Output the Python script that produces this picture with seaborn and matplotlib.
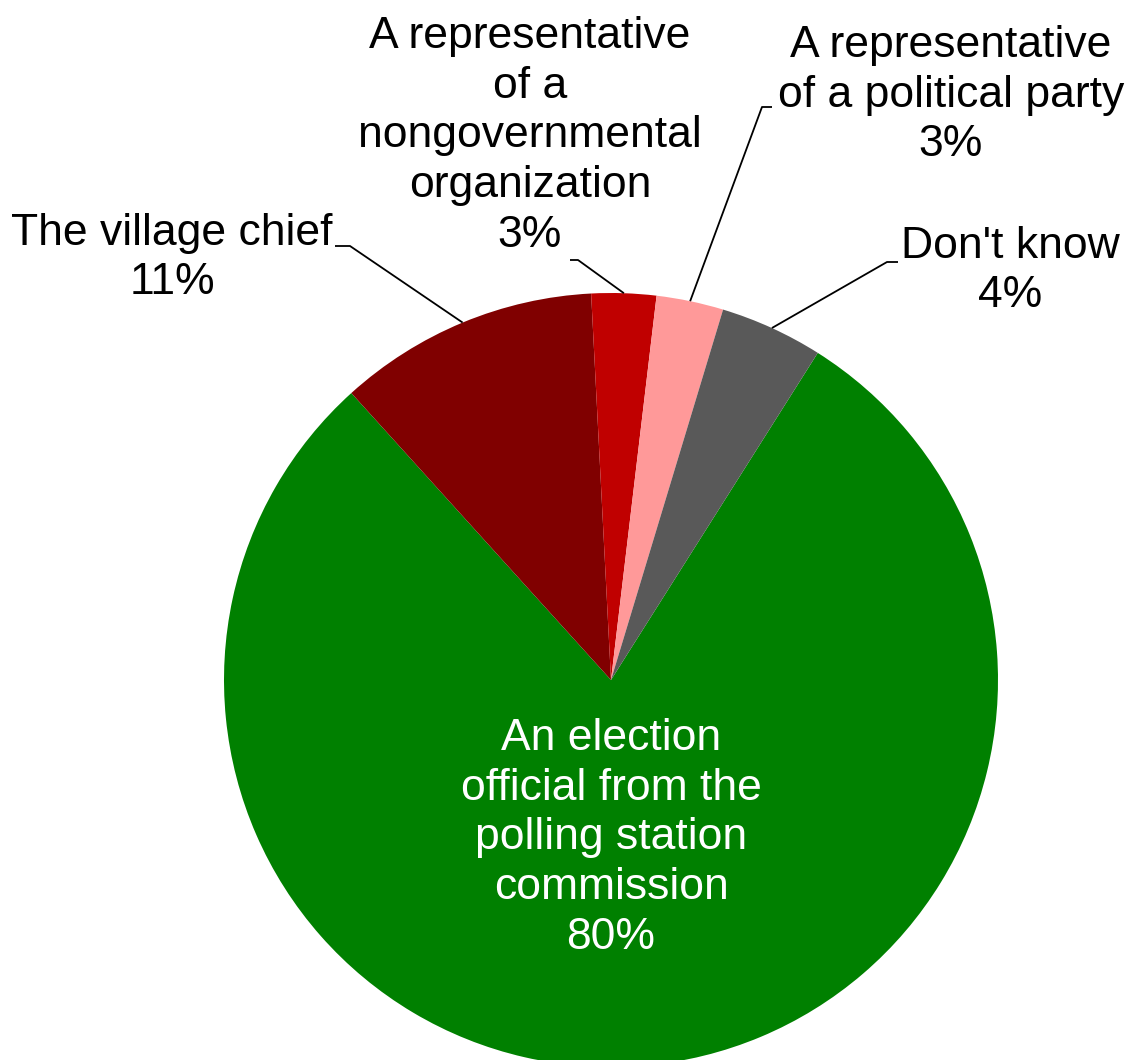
import matplotlib
matplotlib.use("Agg")
import matplotlib.pyplot as plt
import seaborn as sns
import numpy as np

# Dados do gráfico (ordem horária a partir da fatia verde)
categories = [
    "An election\nofficial from the\npolling station\ncommission",
    "The village chief",
    "A representative\nof a\nnongovernmental\norganization",
    "A representative\nof a political party",
    "Don't know",
]
shares = [79.4, 10.9, 2.7, 2.8, 4.3]
pct_labels = ["80%", "11%", "3%", "3%", "4%"]
colors = ["#008000", "#800000", "#C00000", "#FF9999", "#595959"]

sns.set_theme(style="white")
plt.rcParams['font.family'] = ['Liberation Sans', 'DejaVu Sans']

W, H = 1134, 1060
fig = plt.figure(figsize=(W / 100, H / 100), dpi=100)
ax = fig.add_axes([0, 0, 1, 1])

# Pizza em coordenadas de pixel (y para cima)
cx, cy, r = 611, H - 680, 387
wedges, _ = ax.pie(shares, colors=colors, startangle=57.7, counterclock=False,
                   center=(cx, cy), radius=r, frame=True,
                   wedgeprops=dict(linewidth=0))
ax.set_xlim(0, W)
ax.set_ylim(0, H)
ax.set_aspect('equal')
ax.axis('off')

# Posições dos rótulos (pixel, y para baixo) e pontos de cotovelo das linhas
label_pos = [(611, 838), (172, 258), (530, 136), (951, 95), (1010, 271)]
label_end = [None, (335, 246), (570, 260), (772, 107), (898, 262)]
elbow = [None, (350, 246), (578, 260), (762, 107), (887, 262)]

fs = 32
for i, w in enumerate(wedges):
    txt = f"{categories[i]}\n{pct_labels[i]}"
    color = "white" if i == 0 else "black"
    x, y = label_pos[i]
    ax.text(x, H - y, txt, ha="center", va="center", fontsize=fs,
            color=color, linespacing=1.28)
    if elbow[i] is None:
        continue
    theta = np.deg2rad((w.theta1 + w.theta2) / 2)
    ex, ey = cx + r * np.cos(theta), cy + r * np.sin(theta)
    xs = [label_end[i][0], elbow[i][0], ex]
    ys = [H - label_end[i][1], H - elbow[i][1], ey]
    ax.plot(xs, ys, color="black", linewidth=1.3, solid_capstyle="butt")

plt.savefig("out.png", dpi=100)
plt.close()
